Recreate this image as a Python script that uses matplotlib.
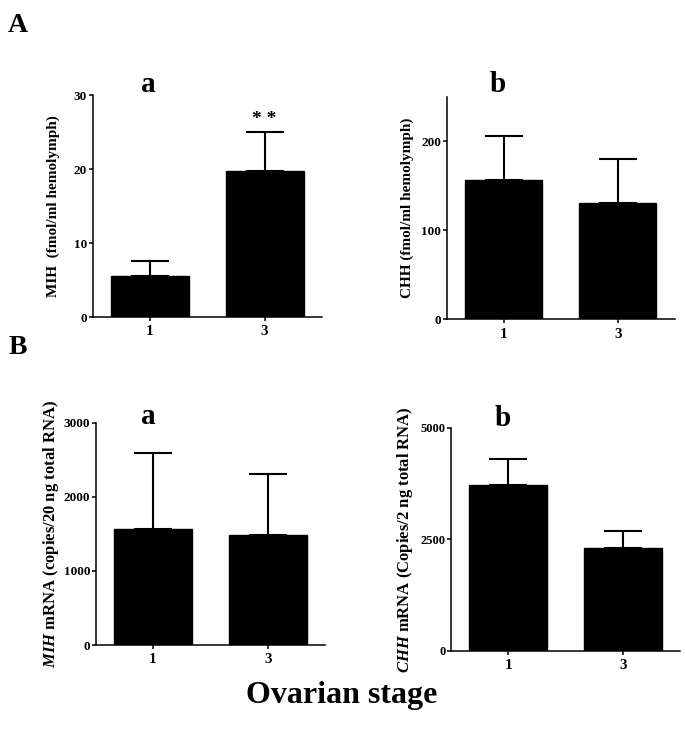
import matplotlib
matplotlib.use("Agg")
import matplotlib.pyplot as plt

plt.rcParams['font.family'] = 'Liberation Serif'
plt.rcParams['font.weight'] = 'bold'
plt.rcParams['mathtext.fontset'] = 'custom'
plt.rcParams['mathtext.it'] = 'Liberation Serif:italic'
plt.rcParams['mathtext.rm'] = 'Liberation Serif:bold'

stages = ['1', '3']

# A: hemolymph peptide levels
mih_fmol = [5.6, 19.8]
mih_fmol_err = [2.0, 5.2]
chh_fmol = [157, 131]
chh_fmol_err = [49, 49]

# B: mRNA copies
mih_mrna = [1560, 1485]
mih_mrna_err = [1035, 825]
chh_mrna = [3715, 2305]
chh_mrna_err = [590, 380]

fig = plt.figure(figsize=(6.85, 7.35), dpi=100)

panels = [
    # rect, values, errors, ylim, yticks, ylabel, label x, label size, tick size
    ([0.1353, 0.5687, 0.3347, 0.302], mih_fmol, mih_fmol_err, 30, [0, 10, 20, 30],
     'MIH  (fmol/ml hemolymph)', -0.143, 11, 9.5),
    ([0.652, 0.5656, 0.333, 0.3028], chh_fmol, chh_fmol_err, 250, [0, 100, 200],
     'CHH (fmol/ml hemolymph)', -0.143, 11, 9.5),
    ([0.1397, 0.1224, 0.3348, 0.3025], mih_mrna, mih_mrna_err, 3000, [0, 1000, 2000, 3000],
     r'$\it{MIH}$ mRNA (copies/20 ng total RNA)', -0.15, 12, 9.5),
    ([0.6584, 0.1143, 0.3343, 0.3038], chh_mrna, chh_mrna_err, 5000, [0, 2500, 5000],
     r'$\it{CHH}$ mRNA (Copies/2 ng total RNA)', -0.158, 12, 9),
]

axes = []
for rect, vals, errs, ytop, yt, ylab, lx, lsize, tsize in panels:
    ax = fig.add_axes(rect)
    x = range(len(stages))
    ax.bar(x, vals, width=0.68, color='black', edgecolor='black', zorder=2)
    ax.errorbar(x, vals, yerr=[[0] * len(errs), errs], fmt='none', ecolor='black',
                elinewidth=1.5, capsize=14, capthick=1.5, zorder=1)
    ax.set_xlim(-0.5, 1.5)
    ax.set_ylim(0, ytop)
    ax.set_yticks(yt)
    ax.set_xticks(list(x))
    ax.set_xticklabels(stages, fontsize=11, fontweight='bold')
    ax.tick_params(axis='y', labelsize=tsize, length=3, width=1.1, pad=1)
    ax.tick_params(axis='x', length=3, width=1.1, pad=3)
    for lab in ax.get_yticklabels():
        lab.set_fontweight('bold')
    ax.spines['top'].set_visible(False)
    ax.spines['right'].set_visible(False)
    ax.spines['left'].set_linewidth(1.1)
    ax.spines['bottom'].set_linewidth(1.1)
    ax.set_ylabel(ylab, fontsize=lsize, fontweight='bold')
    ax.yaxis.set_label_coords(lx, 0.5)
    axes.append(ax)

# panel letters a/b
fig.text(148 / 685, 1 - 85 / 735, 'a', fontsize=21, fontweight='bold', ha='center', va='center')
fig.text(498 / 685, 1 - 85 / 735, 'b', fontsize=21, fontweight='bold', ha='center', va='center')
fig.text(148 / 685, 1 - 417 / 735, 'a', fontsize=21, fontweight='bold', ha='center', va='center')
fig.text(503 / 685, 1 - 418 / 735, 'b', fontsize=21, fontweight='bold', ha='center', va='center')

# significance stars
axes[0].text(1, mih_fmol[1] + mih_fmol_err[1] + 0.5, '* *', ha='center', va='bottom',
             fontsize=14, fontweight='bold')

fig.text(18 / 685, 1 - 25 / 735, 'A', fontsize=20, fontweight='bold', ha='center', va='center')
fig.text(18 / 685, 1 - 348 / 735, 'B', fontsize=20, fontweight='bold', ha='center', va='center')

fig.text(342 / 685, 1 - 695 / 735, 'Ovarian stage', fontsize=23, fontweight='bold',
         ha='center', va='center')

fig.savefig('out.png', dpi=100)
